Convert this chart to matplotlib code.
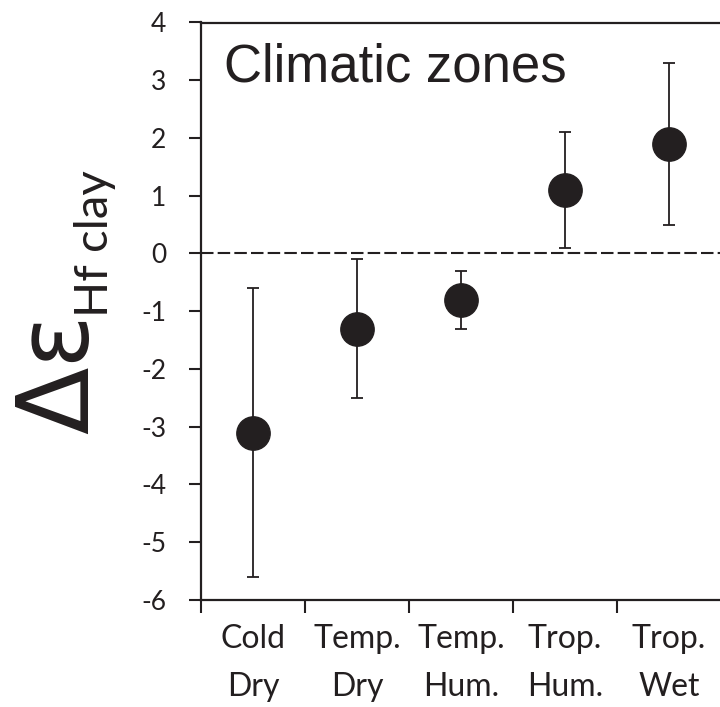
import matplotlib
matplotlib.use('Agg')
import matplotlib.pyplot as plt
import numpy as np

# Climatic zone data
zones = ['Cold\nDry', 'Temp.\nDry', 'Temp.\nHum.', 'Trop.\nHum.', 'Trop.\nWet']
mean = np.array([-3.1, -1.3, -0.8, 1.1, 1.9])
upper = np.array([-0.6, -0.1, -0.3, 2.1, 3.3])
lower = np.array([-5.6, -2.5, -1.3, 0.1, 0.5])

plt.rcParams['font.family'] = ['Lato', 'DejaVu Sans']
plt.rcParams['axes.unicode_minus'] = False

fig = plt.figure(figsize=(7.2, 7.07), dpi=100)
ax = fig.add_axes([201 / 720, 1 - 600 / 707, 520 / 720, 577.5 / 707])

x = np.arange(1, len(zones) + 1)
ink = '#231f20'
ax.errorbar(x, mean, yerr=[mean - lower, upper - mean], fmt='o', color=ink,
            ecolor=ink, elinewidth=1.3, capsize=4.5, capthick=1.3,
            markersize=24, zorder=3)
ax.axhline(0, color=ink, linestyle=(0, (6, 2)), linewidth=1.5, zorder=1)

ax.set_xlim(0.5, 5.5)
ax.set_ylim(-6, 4)
ax.set_yticks(np.arange(-6, 5, 1))
ax.set_xticks(np.arange(0.5, 5.5, 1))
ax.set_xticklabels([])
ax.set_xticks(x, minor=True)
ax.set_xticklabels(zones, minor=True, fontsize=23, linespacing=1.75)
ax.tick_params(axis='x', which='minor', length=0, pad=17)
ax.tick_params(axis='x', which='major', direction='out', length=9, width=1.5, color=ink)
ax.tick_params(axis='y', direction='out', length=9, width=1.5, color=ink,
               labelsize=19, pad=16)
for lab in ax.get_yticklabels() + ax.get_xticklabels(minor=True):
    lab.set_color(ink)

for side in ['left', 'bottom', 'top']:
    ax.spines[side].set_color(ink)
    ax.spines[side].set_linewidth(1.6)
ax.spines['right'].set_color('#999999')
ax.spines['right'].set_linewidth(0.8)

ax.text(0.72, 2.97, 'Climatic zones', fontsize=38, family='Liberation Sans',
        color=ink, va='baseline', ha='left')

# y label: big delta-epsilon with a smaller "Hf clay" subscript
fig.text(88 / 720, 1 - 434 / 707, 'Δε', rotation=90, rotation_mode='anchor',
         ha='left', va='baseline', fontsize=71, family='DejaVu Sans', color=ink)
fig.text(108 / 720, 1 - 317 / 707, 'Hf clay', rotation=90, rotation_mode='anchor',
         ha='left', va='baseline', fontsize=34, color=ink)

fig.savefig('out.png', dpi=100)
